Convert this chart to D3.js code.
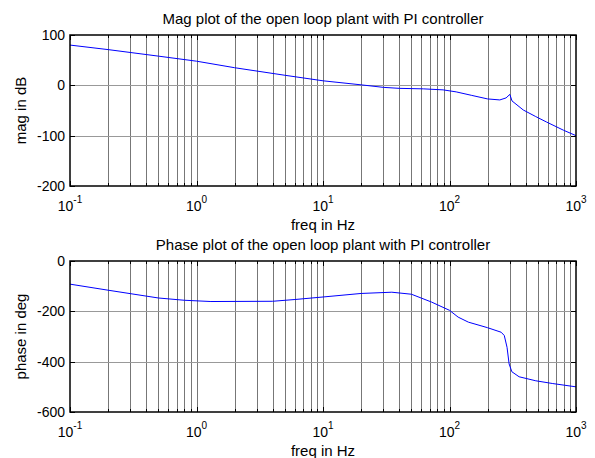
<!DOCTYPE html>
<html>
<head>
<meta charset="utf-8">
<script src="https://cdn.jsdelivr.net/npm/d3@7.9.0/dist/d3.min.js"></script>
<style>
  html, body { margin: 0; padding: 0; background: #fff; }
  svg text { font-family: Arial, "Liberation Sans", sans-serif; fill: #000; }
</style>
</head>
<body>
<svg id="chart" width="595" height="458"></svg>
<script>
// magnitude response (Hz, dB)
const magFreq = [0.1, 0.2, 0.5, 1, 2, 5, 10, 20, 30, 40, 62, 89, 113, 150, 200, 250, 280, 300, 312, 383, 480, 586, 794, 1000];
const magDb = [80, 71, 58, 48, 35, 20, 9, 1, -4, -6, -7, -9, -13, -20, -27, -29, -25, -18, -31, -49, -62, -73, -89, -100];

// phase response (Hz, deg)
const phaseFreq = [0.1, 0.2, 0.5, 0.8, 1.3, 4, 6, 10, 20, 35, 50, 72, 100, 117, 141, 200, 256, 271, 285, 296, 311, 355, 481, 655, 1000];
const phaseDeg = [-92, -116, -147, -156, -161, -160, -153, -143, -129, -124, -132, -163, -196, -223, -243, -265, -283, -296, -343, -409, -440, -460, -476, -487, -500];

const xExponents = [-1, 0, 1, 2, 3];
const magTicks = [-200, -100, 0, 100];
const phaseTicks = [-600, -400, -200, 0];

const svg = d3.select('#chart');
const left = 70, right = 576, plotH = 151;

const x = d3.scaleLog().domain([0.1, 1000]).range([left, right]);
const gridX = x.ticks();

function drawPanel(top, yDomain, yTicks, freq, vals, title, ylabel) {
  const y = d3.scaleLinear().domain(yDomain).range([top + plotH, top]);
  const g = svg.append('g');

  // grid
  g.selectAll('.vg').data(gridX.filter(d => d > 0.1 && d < 1000)).join('line')
    .attr('x1', d => Math.round(x(d)) + 0.5).attr('x2', d => Math.round(x(d)) + 0.5)
    .attr('y1', top).attr('y2', top + plotH)
    .attr('stroke', '#777').attr('stroke-width', 1);
  g.selectAll('.hg').data(yTicks.slice(1, -1)).join('line')
    .attr('x1', left).attr('x2', right)
    .attr('y1', d => Math.round(y(d)) + 0.5).attr('y2', d => Math.round(y(d)) + 0.5)
    .attr('stroke', '#999').attr('stroke-width', 1);

  // ticks, pointing inwards on all sides
  gridX.forEach(d => {
    const major = xExponents.some(e => Math.abs(Math.log10(d) - e) < 1e-9);
    const len = major ? 5 : 3;
    const xx = Math.round(x(d)) + 0.5;
    g.append('line').attr('x1', xx).attr('x2', xx).attr('y1', top + plotH).attr('y2', top + plotH - len).attr('stroke', '#000');
    g.append('line').attr('x1', xx).attr('x2', xx).attr('y1', top).attr('y2', top + len).attr('stroke', '#000');
  });
  yTicks.forEach(d => {
    const yy = Math.round(y(d)) + 0.5;
    g.append('line').attr('x1', left).attr('x2', left + 5).attr('y1', yy).attr('y2', yy).attr('stroke', '#000');
    g.append('line').attr('x1', right).attr('x2', right - 5).attr('y1', yy).attr('y2', yy).attr('stroke', '#000');
  });

  // curve
  const line = d3.line().x(d => x(d[0])).y(d => y(d[1]));
  g.append('path')
    .attr('d', line(d3.zip(freq, vals)))
    .attr('fill', 'none').attr('stroke', '#0000ff').attr('stroke-width', 1);

  // frame
  g.append('rect')
    .attr('x', left).attr('y', top).attr('width', right - left).attr('height', plotH)
    .attr('fill', 'none').attr('stroke', '#000').attr('stroke-width', 1.5);

  // y tick labels
  g.selectAll('.yl').data(yTicks).join('text')
    .attr('x', left - 5).attr('y', d => y(d) + 5)
    .attr('text-anchor', 'end').attr('font-size', 14)
    .text(d => d);

  // x tick labels: 10 with superscript exponent
  xExponents.forEach(e => {
    const t = g.append('text')
      .attr('x', x(Math.pow(10, e))).attr('y', top + plotH + 25)
      .attr('text-anchor', 'middle').attr('font-size', 14);
    t.append('tspan').text('10');
    t.append('tspan').attr('font-size', 10).attr('dy', -8).text(e);
  });

  g.append('text')
    .attr('x', (left + right) / 2).attr('y', top + plotH + 44)
    .attr('text-anchor', 'middle').attr('font-size', 15)
    .text('freq in Hz');

  g.append('text')
    .attr('x', (left + right) / 2).attr('y', top - 11)
    .attr('text-anchor', 'middle').attr('font-size', 15)
    .text(title);

  g.append('text')
    .attr('transform', `translate(26,${top + plotH / 2}) rotate(-90)`)
    .attr('text-anchor', 'middle').attr('font-size', 15)
    .text(ylabel);
}

drawPanel(35, [-200, 100], magTicks, magFreq, magDb,
  'Mag plot of the open loop plant with PI controller', 'mag in dB');
drawPanel(261, [-600, 0], phaseTicks, phaseFreq, phaseDeg,
  'Phase plot of the open loop plant with PI controller', 'phase in deg');
</script>
</body>
</html>
